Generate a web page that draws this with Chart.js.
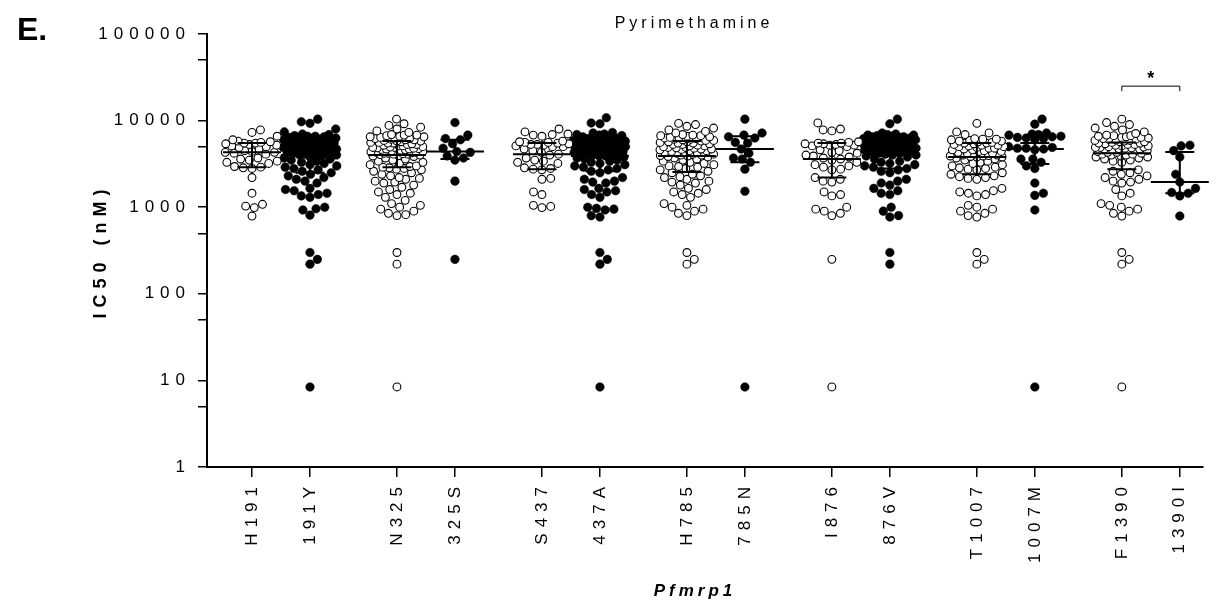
<!DOCTYPE html>
<html>
<head>
<meta charset="utf-8">
<title>Pyrimethamine</title>
<script src="https://cdn.jsdelivr.net/npm/chart.js@4.4.1/dist/chart.umd.min.js"></script>
<style>
  html, body { margin: 0; padding: 0; background: #fff; }
  canvas { display: block; }
</style>
</head>
<body>
<canvas id="myChart" width="1220" height="602"></canvas>
<script>
// Categories, in plot order (open = reference allele, filled = mutant allele)
var categories = ['H191', '191Y', 'N325', '325S', 'S437', '437A', 'H785', '785N', 'I876', '876V', 'T1007', '1007M', 'F1390', '1390I'];
var positions = [0, 1, 2.5, 3.5, 5, 6, 7.5, 8.5, 10, 11, 12.5, 13.5, 15, 16];
var filled = [false, true, false, true, false, true, false, true, false, true, false, true, false, true];

var yTicks = [1, 5, 10, 50, 100, 500, 1000, 5000, 10000, 50000, 100000];

// IC50 values (nM), one list per group
var vH191 = [7800, 7300, 6600, 6000, 5800, 5700, 5600, 5500, 5500, 5400, 5300, 5200, 5100, 5000, 4900, 4700, 4500, 4400, 4300, 4300, 4200, 4100, 3700, 3600, 3500, 3400, 3300, 3200, 2950, 2900, 2850, 2800, 2200, 1450, 1080, 1030, 990, 790];
var v191Y = [10400, 9700, 9300, 8000, 7400, 7000, 6900, 6700, 6600, 6500, 6400, 6300, 6200, 6100, 6000, 5900, 5800, 5700, 5600, 5500, 5400, 5300, 5200, 5100, 5000, 4900, 4800, 4700, 4600, 4500, 4400, 4300, 4200, 4100, 4000, 4000, 6600, 6300, 6000, 5700, 5500, 5200, 5000, 4800, 4600, 4400, 4200, 4100, 3900, 3800, 3700, 3600, 3500, 3400, 3300, 3200, 3100, 3000, 2900, 2800, 2700, 2600, 2500, 2400, 2300, 2200, 2100, 2000, 1900, 1650, 1600, 1550, 1450, 1400, 1350, 1300, 1000, 960, 930, 810, 300, 250, 220, 8.4];
var vN325 = [10400, 9200, 8800, 8400, 8000, 7600, 7300, 6900, 6800, 6700, 6600, 6500, 6400, 6300, 6200, 6100, 6000, 5900, 5800, 5700, 5600, 5500, 5400, 5300, 5200, 5100, 5000, 4950, 4900, 4850, 4800, 4750, 4700, 4650, 4600, 4550, 4500, 6800, 6500, 6200, 6000, 5800, 5600, 5500, 5300, 5100, 4900, 4700, 4500, 4300, 4200, 4100, 4400, 4350, 4300, 4250, 4200, 4150, 4100, 4050, 4000, 3950, 3900, 3850, 3700, 3600, 3500, 3400, 3300, 3200, 3100, 3000, 2950, 2900, 2850, 2800, 2750, 2700, 2600, 2500, 2400, 2300, 2200, 2150, 2100, 2000, 1950, 1900, 1800, 1700, 1600, 1500, 1450, 1400, 1300, 1200, 1100, 1050, 1000, 950, 900, 850, 820, 800, 300, 220, 8.4];
var v325S = [9500, 6800, 6200, 6000, 5400, 4800, 4400, 4300, 3900, 3700, 3500, 2000, 250];
var vS437 = [8000, 7400, 7000, 6900, 6800, 6600, 5800, 5700, 5600, 5500, 5400, 5300, 5200, 5100, 5000, 5600, 5300, 5000, 4700, 4500, 4300, 4100, 4000, 3700, 3500, 3400, 3300, 3200, 2850, 2800, 2750, 2700, 2150, 2100, 1500, 1400, 1050, 1020, 990];
var v437A = [10800, 9400, 9200, 7300, 7200, 7000, 6900, 6800, 6700, 6300, 6200, 6100, 6000, 5900, 5800, 5700, 5600, 5500, 5400, 5300, 5200, 5100, 5000, 4900, 4800, 4700, 4600, 4500, 6500, 6200, 5900, 5600, 5300, 5000, 4800, 4600, 4400, 4200, 4000, 3900, 4400, 4300, 4200, 4100, 4000, 3900, 3800, 3700, 3600, 3500, 3400, 3300, 3200, 3100, 3000, 2900, 2800, 2700, 2600, 2500, 2200, 2100, 2000, 1950, 1900, 1650, 1600, 1550, 1500, 1400, 1300, 1000, 970, 950, 930, 800, 770, 300, 250, 220, 8.4];
var vH785 = [9300, 9000, 8600, 8200, 7800, 7500, 7200, 6900, 6800, 6700, 6600, 6500, 6400, 6300, 6200, 6100, 6000, 5900, 5800, 5700, 5600, 5500, 5400, 5300, 5200, 5100, 5000, 6700, 6400, 6100, 5900, 5700, 5500, 5300, 5100, 4900, 4700, 4500, 4300, 4100, 4000, 4900, 4850, 4800, 4700, 4650, 4600, 4500, 4400, 4300, 4250, 4200, 4100, 4000, 3950, 3900, 3850, 3800, 3700, 3600, 3500, 3400, 3300, 3200, 3100, 3000, 2950, 2900, 2800, 2700, 2600, 2500, 2400, 2300, 2250, 2200, 2100, 2000, 1950, 1900, 1800, 1650, 1600, 1500, 1450, 1400, 1300, 1100, 1050, 1000, 950, 900, 850, 800, 300, 250, 220];
var v785N = [10400, 7200, 6800, 6500, 6300, 5600, 5500, 4700, 4200, 3700, 3600, 3300, 2750, 1530, 8.4];
var vI876 = [9400, 8000, 7800, 7600, 5700, 5600, 5500, 5400, 5400, 5300, 5200, 5100, 5000, 5500, 5200, 4600, 4500, 4300, 4200, 4000, 3900, 3800, 3700, 3600, 3500, 3300, 3100, 3000, 2900, 2750, 2700, 2200, 2100, 2000, 1950, 1500, 1400, 1350, 1000, 950, 900, 850, 800, 250, 8.4];
var v876V = [10400, 9200, 7200, 7000, 6900, 6800, 6700, 6600, 6500, 6400, 6300, 6200, 6100, 6000, 5900, 5800, 5700, 5600, 5500, 5400, 5300, 5200, 5100, 5000, 6800, 6500, 6200, 6000, 5700, 5400, 5100, 4800, 4600, 4400, 4200, 4000, 4900, 4800, 4700, 4600, 4500, 4400, 4300, 4200, 4100, 4000, 3900, 3800, 3600, 3400, 3300, 3200, 3100, 3000, 2900, 2800, 2700, 2600, 2500, 2100, 2000, 1900, 1800, 1650, 1550, 1450, 1400, 1000, 900, 800, 770, 300, 220];
var vT1007 = [9300, 7400, 7200, 6900, 6200, 6100, 6000, 5900, 5800, 5700, 5600, 5500, 5400, 5300, 5200, 5100, 5000, 6100, 5800, 5500, 5200, 5000, 4800, 4600, 4400, 4200, 4000, 3900, 3800, 4900, 4800, 4700, 4600, 4500, 4400, 4300, 4200, 4100, 4000, 3950, 3900, 3850, 3800, 3700, 3600, 3500, 3400, 3300, 3200, 3100, 3000, 2900, 2850, 2800, 2750, 2700, 2500, 2400, 2300, 2250, 2200, 2150, 2100, 1650, 1550, 1500, 1450, 1400, 1350, 1050, 1000, 950, 900, 850, 800, 770, 300, 250, 220];
var v1007M = [10400, 9100, 7200, 7000, 6900, 6800, 6600, 6500, 6400, 6300, 6200, 6000, 5000, 4900, 4800, 4800, 4700, 4600, 3600, 3600, 3300, 3000, 2800, 1900, 1450, 1370, 930, 8.4];
var vF1390 = [10400, 9500, 9000, 8600, 8200, 7800, 7400, 7100, 6800, 6700, 6600, 6500, 6400, 6300, 6200, 6100, 6000, 5900, 5800, 5700, 5600, 5500, 5400, 5300, 5200, 5100, 5000, 6700, 6400, 6100, 5900, 5700, 5500, 5300, 5100, 4900, 4700, 4500, 4300, 4100, 4000, 3800, 4950, 4900, 4850, 4800, 4750, 4700, 4650, 4600, 4550, 4500, 4400, 4300, 4200, 4100, 4000, 3900, 3800, 3700, 3600, 3500, 3400, 3300, 2700, 2600, 2500, 2400, 2300, 2200, 2100, 2000, 1950, 1900, 1600, 1450, 1350, 1100, 1050, 1000, 950, 900, 850, 790, 300, 250, 220, 8.4];
var v1390I = [5200, 5100, 4500, 3800, 2400, 1950, 1650, 1480, 1450, 1350, 790];

// median and interquartile range drawn on each group
var medians = [4300, 4000, 4000, 4400, 4100, 3900, 3900, 4700, 3600, 4300, 3800, 4700, 4200, 1950];
var upperQ = [5500, 5600, 5800, 6000, 5500, 5500, 5800, 6600, 5500, 5800, 5500, 5500, 5600, 4350];
var lowerQ = [2900, 2500, 2900, 3600, 2750, 2600, 2550, 3300, 2200, 2800, 2400, 3150, 2750, 1450];

// significance bracket between F1390 and 1390I
var sigPair = [12, 13];
var sigLevel = 25000;
var sigLabel = '*';

var groups = [vH191, v191Y, vN325, v325S, vS437, v437A, vH785, v785N, vI876, v876V, vT1007, v1007M, vF1390, v1390I];

var FONT = '"Liberation Sans", Arial, Helvetica, sans-serif';
Chart.defaults.font.family = FONT;
Chart.defaults.color = '#000';

// scatter-dot layout (pixel equivalents of one decade / one x unit)
var decadePx = 86.6;
var unitPx = 58;
var dotPx = 8.8;
var maxHalfPx = 27;

function freeSlot(placed, y, d) {
  var near = placed.filter(function(p) { return Math.abs(p.y - y) < d; });
  var cands = [0];
  near.forEach(function(p) {
    var dx = Math.sqrt(d * d - (p.y - y) * (p.y - y));
    cands.push(p.x + dx, p.x - dx);
  });
  // lean to the emptier side when two slots are equally close
  var bias = placed.reduce(function(s, p) { return s + p.x; }, 0) > 0 ? -1 : 1;
  cands.sort(function(a, b) {
    var diff = Math.abs(a) - Math.abs(b);
    return Math.abs(diff) > 0.01 ? diff : (b - a) * bias;
  });
  for (var i = 0; i < cands.length; i++) {
    var c = cands[i];
    if (Math.abs(c) > maxHalfPx) continue;
    var ok = near.every(function(p) {
      return (p.x - c) * (p.x - c) + (p.y - y) * (p.y - y) >= d * d - 0.01;
    });
    if (ok) return c;
  }
  return null;
}

function swarm(values, center) {
  var sorted = values.slice().sort(function(a, b) { return a - b; });
  var placed = [];
  sorted.forEach(function(v) {
    var y = Math.log10(v) * decadePx;
    var x = null;
    for (var d = dotPx; d > 1 && x === null; d *= 0.85) {
      x = freeSlot(placed, y, d);
    }
    placed.push({ x: x === null ? 0 : x, y: y, v: v });
  });
  return placed.map(function(p) {
    return { x: center + p.x / unitPx, y: p.v };
  });
}

var datasets = groups.map(function(vals, i) {
  return {
    label: categories[i],
    data: swarm(vals, positions[i]),
    pointRadius: filled[i] ? 4.3 : 3.9,
    pointBorderWidth: filled[i] ? 0.5 : 1.1,
    pointBackgroundColor: filled[i] ? '#000' : '#fff',
    pointBorderColor: '#000',
    showLine: false
  };
});

var spacingPlugin = {
  id: 'spacing',
  beforeUpdate: function(chart) { chart.ctx.letterSpacing = '6px'; },
  beforeDraw: function(chart) { chart.ctx.letterSpacing = '6px'; }
};

var summaryPlugin = {
  id: 'summary',
  afterDatasetsDraw: function(chart) {
    var ctx = chart.ctx, xs = chart.scales.x, ys = chart.scales.y;
    ctx.save();
    ctx.strokeStyle = '#000';
    ctx.lineWidth = 2;
    positions.forEach(function(p, i) {
      var cx = xs.getPixelForValue(p);
      var yM = ys.getPixelForValue(medians[i]);
      var yU = ys.getPixelForValue(upperQ[i]);
      var yL = ys.getPixelForValue(lowerQ[i]);
      var wM = xs.getPixelForValue(p + 0.5) - cx;
      var wC = xs.getPixelForValue(p + 0.25) - cx;
      ctx.beginPath();
      ctx.moveTo(cx - wM, yM); ctx.lineTo(cx + wM, yM);
      ctx.moveTo(cx, yU); ctx.lineTo(cx, yL);
      ctx.moveTo(cx - wC, yU); ctx.lineTo(cx + wC, yU);
      ctx.moveTo(cx - wC, yL); ctx.lineTo(cx + wC, yL);
      ctx.stroke();
    });
    ctx.restore();
  }
};

var textPlugin = {
  id: 'texts',
  afterDraw: function(chart) {
    var ctx = chart.ctx, xs = chart.scales.x, ys = chart.scales.y;
    ctx.save();
    ctx.fillStyle = '#000';

    // panel letter
    ctx.letterSpacing = '0px';
    ctx.font = 'bold 32px ' + FONT;
    ctx.textAlign = 'left';
    ctx.textBaseline = 'alphabetic';
    ctx.fillText('E.', 17, 40);

    // title
    ctx.letterSpacing = '4px';
    ctx.font = '16px ' + FONT;
    ctx.textAlign = 'center';
    ctx.fillText('Pyrimethamine', 694, 28);

    // x axis title
    ctx.font = 'italic bold 17px ' + FONT;
    ctx.fillText('Pfmrp1', 695, 596);

    // y axis title
    ctx.save();
    ctx.translate(101, 254);
    ctx.rotate(-Math.PI / 2);
    ctx.letterSpacing = '6px';
    ctx.font = 'bold 18px ' + FONT;
    ctx.textBaseline = 'middle';
    ctx.fillText('IC50 (nM)', 3, 0);
    ctx.restore();

    // significance bracket
    var x1 = xs.getPixelForValue(positions[sigPair[0]]);
    var x2 = xs.getPixelForValue(positions[sigPair[1]]);
    var yb = ys.getPixelForValue(sigLevel);
    ctx.strokeStyle = '#000';
    ctx.lineWidth = 1;
    ctx.beginPath();
    ctx.moveTo(x1, yb + 5); ctx.lineTo(x1, yb); ctx.lineTo(x2, yb); ctx.lineTo(x2, yb + 5);
    ctx.stroke();
    ctx.letterSpacing = '0px';
    ctx.font = 'bold 18px ' + FONT;
    ctx.textAlign = 'center';
    ctx.fillText(sigLabel, (x1 + x2) / 2, yb - 2);
    ctx.restore();
  }
};

var ctx = document.getElementById('myChart').getContext('2d');

var chart = new Chart(ctx, {
  type: 'scatter',
  data: { datasets: datasets },
  options: {
    responsive: false,
    animation: false,
    devicePixelRatio: 1,
    layout: { padding: { left: 0, top: 34, right: 17, bottom: 0 } },
    plugins: {
      legend: { display: false },
      tooltip: { enabled: false },
      title: { display: false }
    },
    scales: {
      x: {
        type: 'linear',
        min: -0.776,
        max: 16.4,
        afterFit: function(scale) { scale.height = 135; },
        afterBuildTicks: function(scale) {
          scale.ticks = positions.map(function(p) { return { value: p }; });
        },
        ticks: {
          autoSkip: false,
          minRotation: 90,
          maxRotation: 90,
          padding: 4,
          font: { size: 17 },
          color: '#000',
          callback: function(value) {
            var i = positions.indexOf(value);
            return i >= 0 ? categories[i] : '';
          }
        },
        grid: { drawOnChartArea: false, color: '#000', lineWidth: 1.5, tickLength: 10 },
        border: { color: '#000', width: 2 }
      },
      y: {
        type: 'logarithmic',
        min: 1,
        max: 100000,
        afterFit: function(scale) { scale.width = 207; },
        afterBuildTicks: function(scale) {
          scale.ticks = yTicks.map(function(v) { return { value: v }; });
        },
        ticks: {
          padding: 7,
          font: { size: 17 },
          color: '#000',
          callback: function(value) {
            var l = Math.log10(value);
            return Math.abs(l - Math.round(l)) < 1e-9 ? String(value) : '';
          }
        },
        grid: { drawOnChartArea: false, color: '#000', lineWidth: 1.5, tickLength: 9 },
        border: { color: '#000', width: 2 }
      }
    }
  },
  plugins: [spacingPlugin, summaryPlugin, textPlugin]
});
</script>
</body>
</html>
